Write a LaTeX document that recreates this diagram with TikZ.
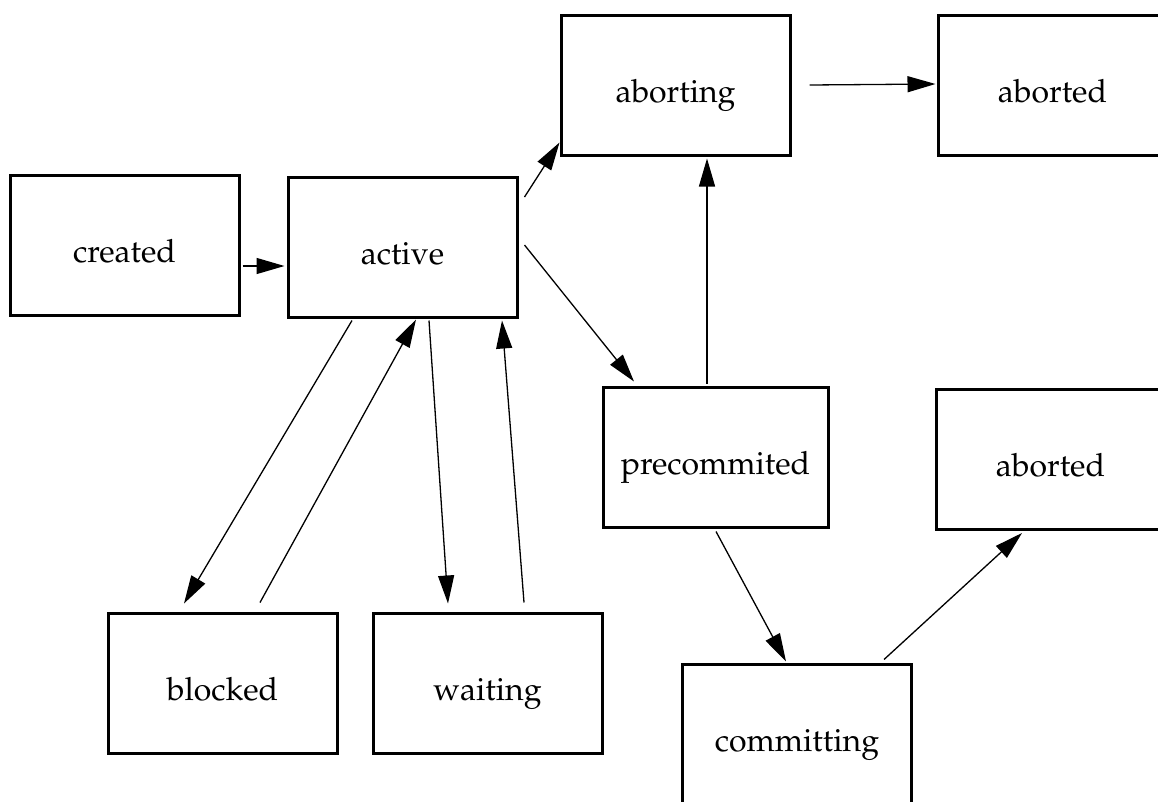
\documentclass[tikz,border=0pt]{standalone}
\usepackage[T1]{fontenc}
\usepackage{mathpazo}
\usetikzlibrary{arrows.meta,calc}

\tikzset{
  state/.style={draw, line width=3pt, minimum width=229pt, minimum height=140pt,
    inner sep=0pt, font=\fontsize{32}{38}\selectfont,
    text height=34pt, text depth=0pt},
  arr/.style={line width=1.3pt, -{Triangle[length=28pt,width=16pt]}}
}

\begin{document}
\begin{tikzpicture}[x=1pt, y=-1pt]
  \clip (0,0) rectangle (1158,801);
  \fill[white] (0,0) rectangle (1158,801);

  % states
  \node[state] (created)   at (124.5,245)  {created};
  \node[state] (active)    at (402.5,247)  {active};
  \node[state] (aborting)  at (675.5,85)   {aborting};
  \node[state] (abortedA)  at (1052.5,85)  {aborted};
  \node[state, minimum width=225pt] (precommited) at (715.5,457) {precommited};
  \node[state] (abortedB)  at (1050.5,459) {aborted};
  \node[state] (blocked)   at (222.5,683.5) {blocked};
  \node[state] (waiting)   at (487.5,683)  {waiting};
  \node[state] (committing) at (797,734)   {committing};

  % transitions
  \draw[arr] ($(created.east)+(2,21)$) -- ($(active.west)+(-2,19)$);
  \draw[arr] ($(active.east)+(6,-50)$) -- ($(aborting.south west)+(0,-14)$);
  \draw[arr] ($(aborting.east)+(18,0)$) -- ($(abortedA.west)+(-1,-1)$);
  \draw[arr] ($(active.east)+(6,-2)$) -- ($(precommited.north)+(-81.5,-4)$);
  \draw[arr] ($(precommited.north)+(-8.5,-2)$) -- ($(aborting.south)+(31.5,2)$);
  \draw[arr] ($(precommited.south)+(0.5,3)$) -- ($(committing.north)+(-11,-1)$);
  \draw[arr] ($(committing.north)+(87,-3)$) -- ($(abortedB.south)+(-28.5,2.5)$);
  \draw[arr] ($(active.south)+(-50.5,2)$) -- ($(blocked.north)+(-38.5,-8.5)$);
  \draw[arr] ($(blocked.north)+(37.5,-9.5)$) -- ($(active.south)+(13.5,1)$);
  \draw[arr] ($(active.south)+(26.5,2)$) -- ($(waiting.north)+(-39.5,-8)$);
  \draw[arr] ($(waiting.north)+(36.5,-9)$) -- ($(active.south)+(99.5,2)$);
\end{tikzpicture}
\end{document}
